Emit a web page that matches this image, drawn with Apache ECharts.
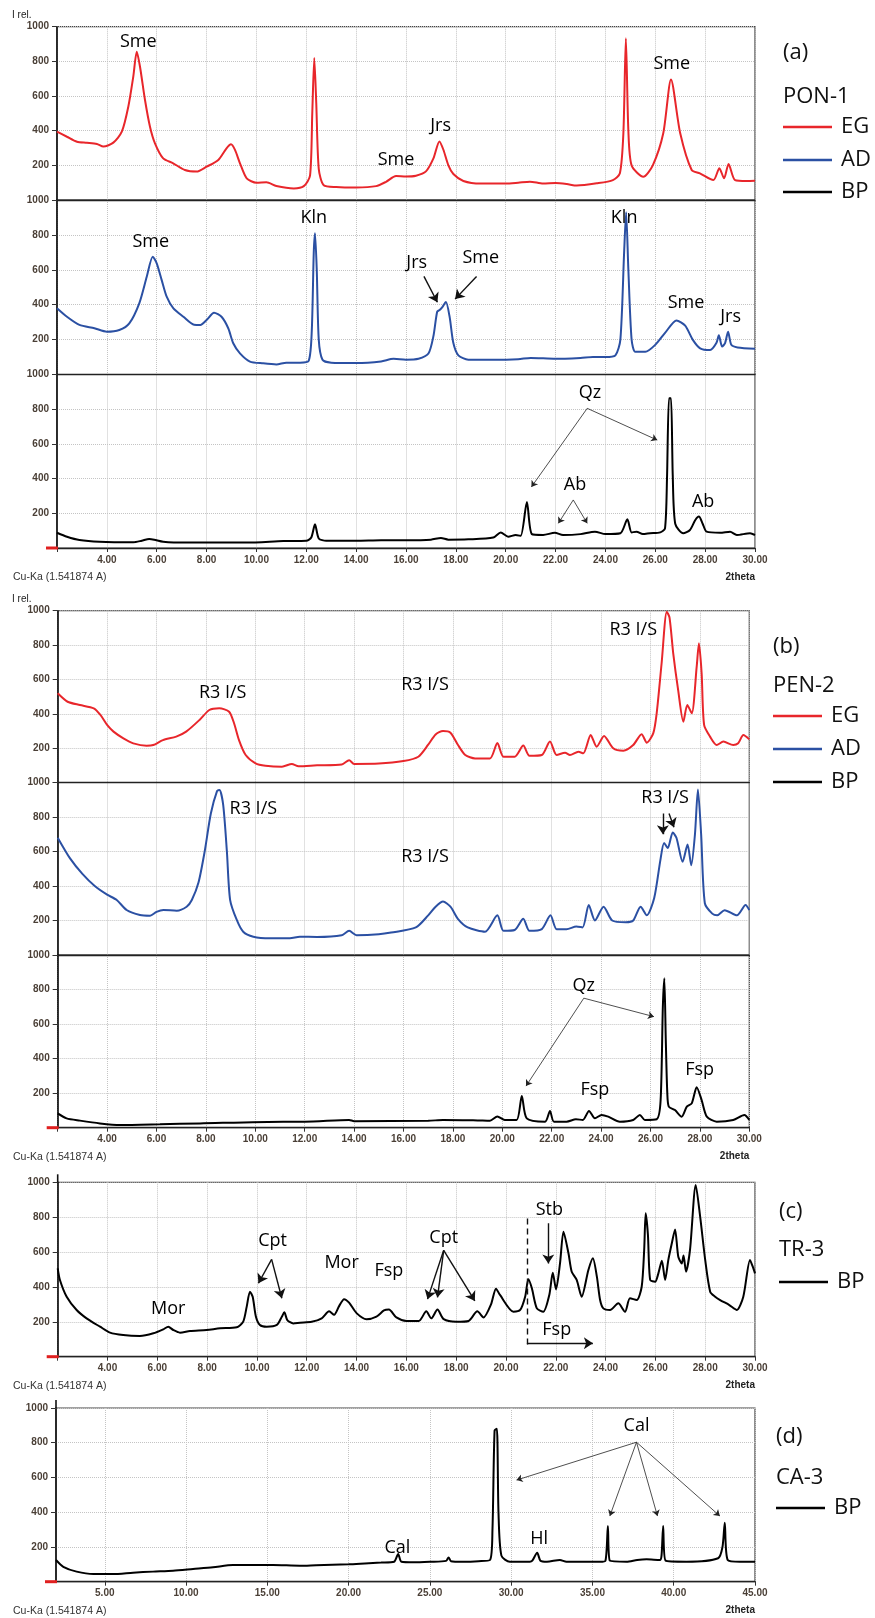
<!DOCTYPE html>
<html>
<head>
<meta charset="UTF-8">
<title>XRD patterns</title>
<style>
  html, body { margin: 0; padding: 0; background: #fff; }
  #main { width: 875px; height: 1618px; }
</style>
</head>
<body>
<div id="main"></div>
<script src="https://cdn.jsdelivr.net/npm/echarts@6/dist/echarts.min.js"></script>
<script>
// ---- data: [2theta, I rel.] ----
var ponEG = [[2,395],[2.4,365],[2.8,336],[3.2,330],[3.6,323],[3.86,308],[4.26,331],[4.6,394],[4.86,538],[5.06,712],[5.2,856],[5.33,769],[5.53,577],[5.73,423],[5.93,327],[6.26,240],[6.66,212],[7.13,173],[7.6,164],[8.0,192],[8.47,231],[8.8,298],[8.98,321],[9.14,289],[9.34,212],[9.61,125],[10.0,100],[10.4,102],[10.8,81],[11.5,67],[11.9,80],[12.15,140],[12.24,500],[12.32,820],[12.4,560],[12.5,180],[12.7,85],[13.2,75],[14,72],[14.8,80],[15.2,105],[15.6,138],[16.0,135],[16.4,140],[16.8,165],[17.1,240],[17.34,338],[17.5,290],[17.7,200],[17.9,150],[18.3,110],[19,95],[20,95],[20.5,100],[20.97,106],[21.5,95],[22,98],[22.45,92],[22.85,83],[23.65,96],[24.3,115],[24.58,154],[24.72,385],[24.82,933],[24.92,400],[25.05,200],[25.52,134],[25.9,200],[26.32,385],[26.63,696],[27.0,385],[27.46,173],[27.79,154],[28.33,115],[28.57,183],[28.76,125],[28.94,208],[29.2,115],[29.67,110],[30,111]];
var ponAD = [[2,380],[2.4,331],[2.9,284],[3.5,265],[4.0,245],[4.5,255],[4.9,293],[5.3,408],[5.6,560],[5.84,675],[6.0,637],[6.2,541],[6.4,446],[6.67,379],[7.07,331],[7.5,285],[7.75,284],[8.0,312],[8.3,354],[8.6,331],[8.87,265],[9.07,179],[9.34,121],[9.74,74],[10.27,64],[10.8,58],[11.2,68],[11.75,68],[12.1,80],[12.22,250],[12.3,700],[12.35,810],[12.42,600],[12.5,200],[12.65,85],[13,68],[14,66],[15,75],[15.5,90],[16,85],[16.5,90],[16.9,120],[17.1,220],[17.25,360],[17.35,370],[17.45,385],[17.6,415],[17.75,330],[17.9,180],[18.1,110],[18.5,85],[19.5,85],[20.5,88],[21,95],[22,90],[23,95],[23.5,100],[24,100],[24.4,110],[24.6,200],[24.75,700],[24.83,930],[24.92,600],[25.05,200],[25.2,130],[25.6,130],[26,170],[26.4,240],[26.85,310],[27.2,280],[27.5,200],[27.8,150],[28.2,140],[28.45,180],[28.55,225],[28.68,160],[28.8,180],[28.92,245],[29.05,170],[29.3,155],[30,148]];
var ponBP = [[2,88],[2.4,65],[2.9,46],[3.7,36],[5.06,33],[5.4,42],[5.7,52],[5.9,48],[6.26,36],[7.2,31],[9.6,31],[11.08,40],[12,42],[12.2,60],[12.35,137],[12.5,55],[12.8,42],[14,42],[15,45],[16,45],[17,48],[17.4,58],[17.7,48],[18.5,50],[19.5,60],[19.8,90],[20.1,65],[20.4,75],[20.6,70],[20.85,265],[21.05,80],[21.5,75],[21.97,88],[22.3,75],[23,80],[23.58,94],[24,80],[24.6,85],[24.88,165],[25.05,90],[25.25,94],[25.5,80],[25.79,85],[26.2,90],[26.39,113],[26.47,400],[26.55,863],[26.63,863],[26.7,420],[26.8,140],[27.12,85],[27.39,104],[27.6,160],[27.75,181],[27.9,140],[28.06,94],[28.6,88],[29.0,94],[29.27,75],[29.8,85],[30,75]];

var penEG = [[2,519],[2.4,470],[2.9,451],[3.46,432],[3.73,393],[4.0,335],[4.26,296],[4.66,257],[5.06,228],[5.6,214],[5.87,218],[6.26,247],[6.8,267],[7.2,296],[7.74,364],[8.14,422],[8.54,432],[8.94,412],[9.14,345],[9.34,247],[9.61,160],[10.01,112],[10.41,98],[11.08,92],[11.48,108],[11.75,95],[12.5,100],[13.5,105],[13.8,130],[14.0,108],[15,110],[16,125],[16.6,150],[17.0,220],[17.3,280],[17.6,300],[17.9,290],[18.2,220],[18.5,160],[18.9,140],[19.5,140],[19.8,230],[20.05,150],[20.5,150],[20.85,215],[21.1,155],[21.6,160],[21.93,238],[22.2,160],[22.54,173],[22.74,160],[23.08,179],[23.28,170],[23.58,276],[23.82,208],[24.12,271],[24.49,199],[24.9,185],[25.3,218],[25.64,281],[25.85,232],[26.11,286],[26.25,403],[26.45,694],[26.66,994],[26.77,960],[26.92,752],[27.12,538],[27.33,354],[27.49,451],[27.67,403],[27.87,674],[27.96,810],[28.07,636],[28.17,335],[28.41,267],[28.68,218],[28.95,238],[29.35,218],[29.55,228],[29.76,276],[30,251]];
var penAD = [[2,680],[2.5,560],[3.0,470],[3.5,400],[4.0,350],[4.39,319],[4.79,261],[5.33,232],[5.74,228],[6.0,250],[6.28,261],[6.82,257],[7.22,280],[7.43,319],[7.7,420],[7.95,600],[8.2,820],[8.45,950],[8.55,957],[8.7,870],[8.85,600],[8.98,320],[9.25,203],[9.51,135],[9.92,106],[10.6,97],[11.4,97],[11.8,106],[12.5,105],[13.5,115],[13.8,140],[14.1,115],[15,120],[15.5,130],[16.5,160],[17.0,230],[17.3,280],[17.6,310],[17.9,280],[18.2,210],[18.6,160],[19.3,135],[19.8,230],[20.05,140],[20.5,145],[20.85,210],[21.1,140],[21.6,150],[21.95,230],[22.2,150],[22.6,150],[23.0,165],[23.25,160],[23.5,290],[23.75,200],[24.1,280],[24.45,200],[25.0,190],[25.3,200],[25.6,280],[25.85,230],[26.15,330],[26.4,550],[26.55,650],[26.7,620],[26.9,710],[27.05,680],[27.3,540],[27.5,640],[27.65,520],[27.8,700],[27.92,960],[28.05,700],[28.2,300],[28.5,240],[28.7,230],[29.0,260],[29.5,230],[29.85,290],[30,260]];
var penBP = [[2,83],[2.36,54],[2.9,41],[3.71,25],[4.52,16],[6.14,20],[7.76,25],[11.13,35],[12,35],[13.8,45],[14,38],[17,40],[17.6,45],[19,42],[19.5,40],[19.8,65],[20.1,45],[20.58,45],[20.79,184],[20.99,54],[21.73,35],[21.93,97],[22.09,35],[22.6,35],[22.98,49],[23.26,45],[23.51,97],[23.75,54],[24.02,74],[24.29,64],[24.76,35],[25.3,45],[25.57,74],[25.77,45],[26.25,49],[26.41,160],[26.5,700],[26.56,865],[26.62,500],[26.68,200],[26.74,122],[26.99,102],[27.26,64],[27.47,122],[27.67,141],[27.87,234],[28.07,160],[28.28,64],[28.68,35],[29.35,45],[29.8,74],[30,45]];

var trBP = [[2,507],[2.09,440],[2.36,344],[2.76,268],[3.16,220],[3.7,172],[4.1,138],[4.63,124],[5.3,119],[5.84,134],[6.24,157],[6.44,172],[6.64,153],[6.91,138],[7.31,147],[7.98,153],[8.52,163],[9.19,169],[9.45,201],[9.59,287],[9.72,373],[9.83,344],[9.96,229],[10.12,182],[10.39,172],[10.8,182],[11.0,229],[11.1,255],[11.22,210],[11.46,191],[11.73,195],[12.2,200],[12.6,220],[12.9,260],[13.1,240],[13.3,290],[13.5,330],[13.7,310],[14.0,250],[14.4,215],[14.8,230],[15.1,265],[15.3,270],[15.6,225],[16.0,205],[16.5,205],[16.8,260],[17.0,220],[17.25,270],[17.5,215],[18.0,200],[18.5,205],[18.85,260],[19.1,225],[19.4,300],[19.6,390],[19.76,354],[20.3,258],[20.57,268],[20.77,344],[20.9,444],[21.04,392],[21.24,277],[21.5,258],[21.74,354],[21.88,482],[22.01,386],[22.17,535],[22.31,717],[22.51,593],[22.64,487],[22.84,440],[23.04,344],[23.31,497],[23.49,564],[23.65,459],[23.78,325],[23.91,277],[24.18,268],[24.51,306],[24.78,258],[24.98,335],[25.25,325],[25.45,401],[25.55,612],[25.61,822],[25.7,700],[25.79,440],[25.99,430],[26.12,478],[26.26,550],[26.39,440],[26.52,555],[26.66,650],[26.79,730],[26.92,573],[27.06,535],[27.13,580],[27.23,487],[27.39,612],[27.62,985],[27.8,800],[28.0,555],[28.2,373],[28.4,344],[28.6,325],[28.97,296],[29.27,268],[29.53,344],[29.8,555],[29.91,516],[30,478]];

var caBP = [[2,125],[2.45,86],[3.27,58],[4.3,44],[5.5,44],[6.74,52],[7.97,58],[9.2,63],[10.43,73],[11.66,83],[12.89,96],[14.12,96],[15.35,96],[17,92],[18,95],[20,100],[21,105],[22,110],[22.8,115],[23.05,160],[23.25,115],[24,112],[25,115],[26,120],[26.15,140],[26.3,118],[27,115],[28,118],[28.7,125],[28.85,300],[28.98,870],[29.12,880],[29.22,400],[29.4,150],[29.92,115],[31.15,115],[31.3,121],[31.6,167],[31.8,121],[32.2,115],[33,125],[33.4,115],[35.46,115],[35.8,121],[35.95,321],[36.07,121],[37.1,115],[37.75,125],[38.33,129],[39.15,125],[39.25,150],[39.35,321],[39.5,121],[40.79,115],[42.73,135],[43.0,200],[43.14,340],[43.32,125],[44.07,115],[45,115]];

// curves: [grid, data, colour]
var curves = [
  [0, ponEG, '#e8262b'], [1, ponAD, '#2b50a3'], [2, ponBP, '#000000'],
  [3, penEG, '#e8262b'], [4, penAD, '#2b50a3'], [5, penBP, '#000000'],
  [6, trBP, '#000000'], [7, caBP, '#000000']
];

// phase labels: [grid, 2theta, I, text]
var labels = [
  [0, 5.26, 913, 'Sme'], [0, 15.6, 231, 'Sme'], [0, 17.39, 428, 'Jrs'], [0, 26.66, 785, 'Sme'],
  [1, 5.76, 761, 'Sme'], [1, 12.3, 899, 'Kln'], [1, 16.43, 638, 'Jrs'], [1, 19.0, 668, 'Sme'],
  [1, 24.75, 899, 'Kln'], [1, 27.23, 408, 'Sme'], [1, 29.02, 331, 'Jrs'],
  [2, 23.38, 892, 'Qz'], [2, 22.78, 363, 'Ab'], [2, 27.92, 267, 'Ab'],
  [3, 8.68, 519, 'R3 I/S'], [3, 16.87, 570, 'R3 I/S'], [3, 25.3, 888, 'R3 I/S'],
  [4, 9.92, 845, 'R3 I/S'], [4, 16.87, 566, 'R3 I/S'], [4, 26.59, 908, 'R3 I/S'],
  [5, 23.3, 820, 'Qz'], [5, 23.75, 218, 'Fsp'], [5, 27.99, 334, 'Fsp'],
  [6, 6.44, 272, 'Mor'], [6, 10.63, 663, 'Cpt'], [6, 13.4, 540, 'Mor'], [6, 15.3, 490, 'Fsp'],
  [6, 17.5, 680, 'Cpt'], [6, 21.74, 841, 'Stb'], [6, 22.04, 153, 'Fsp'],
  [7, 23.0, 195, 'Cal'], [7, 31.72, 244, 'Hl'], [7, 37.71, 896, 'Cal']
];

// thin arrows: [grid, x1, y1, x2, y2]
var thinArrows = [
  [2, 23.27, 805, 21.03, 352], [2, 23.27, 805, 26.08, 622],
  [2, 22.71, 277, 22.11, 142], [2, 22.71, 277, 23.27, 142],
  [5, 23.3, 750, 20.96, 241], [5, 23.3, 750, 26.14, 643],
  [7, 37.71, 803, 30.33, 585], [7, 37.71, 803, 36.07, 378],
  [7, 37.71, 803, 39.0, 378], [7, 37.71, 803, 42.84, 378]
];
// bold arrows
var boldArrows = [
  [1, 16.72, 562, 17.26, 414], [1, 18.83, 562, 17.97, 432],
  [4, 26.5, 820, 26.5, 700], [4, 26.75, 820, 26.95, 740],
  [6, 10.59, 558, 10.06, 421], [6, 10.59, 558, 11.0, 335],
  [6, 17.5, 610, 16.85, 330], [6, 17.5, 610, 17.25, 340], [6, 17.5, 610, 18.75, 320],
  [6, 21.7, 765, 21.7, 535], [6, 20.84, 77, 23.49, 77]
];
var dashed = [[6, 20.84, 793, 20.84, 48]];

// ---- layout: [left, top, right, bottom] in px ----
var boxes = [
  [57, 26.7, 755, 200], [57, 200, 755, 374.5], [57, 374.5, 755, 548],
  [57.7, 610.7, 749.3, 782.5], [57.7, 782.5, 749.3, 955], [57.7, 955, 749.3, 1127.7],
  [57.7, 1182.3, 755, 1356.7],
  [56, 1408, 755, 1581.7]
];
var bottomOf = { 2: true, 5: true, 6: true, 7: true };
var gridLine = { type: 'dotted', color: '#c4c4c4', width: 1 };
var tickFont = { color: '#4a3f36', fontSize: 10, fontWeight: 'bold', fontFamily: 'Liberation Sans, Arial, sans-serif' };
var labelFont = 'Open Sans, Noto Sans, sans-serif';

var grids = [], xAxes = [], yAxes = [], series = [];
boxes.forEach(function (b, i) {
  grids.push({ left: b[0], top: b[1], width: b[2] - b[0], height: b[3] - b[1],
    show: true, borderColor: '#444', borderWidth: 1.2, containLabel: false });
  var isBottom = !!bottomOf[i];
  var xa = {
    gridIndex: i, type: 'value', min: 2, max: 30, interval: 2,
    axisLine: { show: true, onZero: false, lineStyle: { color: '#222', width: 1.4 } },
    axisTick: { show: isBottom, length: 4, lineStyle: { color: '#333' } },
    axisLabel: Object.assign({ show: isBottom, margin: 7,
      formatter: function (v) { return v === 2 ? '' : v.toFixed(2); } }, tickFont),
    splitLine: { show: true, lineStyle: gridLine }
  };
  if (i === 7) {
    xa.max = 45;
    delete xa.interval;
    var cv = [5, 10, 15, 20, 25, 30, 35, 40, 45];
    xa.axisTick.customValues = cv;
    xa.axisLabel.customValues = cv;
  }
  xAxes.push(xa);
  yAxes.push({
    gridIndex: i, type: 'value', min: 0, max: 1000, interval: 200,
    axisLine: { show: true, onZero: false, lineStyle: { color: '#111', width: 1.6 } },
    axisTick: { show: true, length: 5, lineStyle: { color: '#333' } },
    axisLabel: Object.assign({ margin: 8,
      formatter: function (v) { return v === 0 ? '' : String(v); } }, tickFont),
    splitLine: { show: true, lineStyle: gridLine }
  });
});

curves.forEach(function (c) {
  series.push({ type: 'line', xAxisIndex: c[0], yAxisIndex: c[0], data: c[1],
    showSymbol: false, symbol: 'none', animation: false, z: 3, smooth: 0.25,
    lineStyle: { color: c[2], width: 2 } });
});

function arrowSeries(list, g, extra) {
  var d = list.filter(function (a) { return a[0] === g; })
    .map(function (a) { return { coords: [[a[1], a[2]], [a[3], a[4]]] }; });
  if (!d.length) return;
  series.push(Object.assign({ type: 'lines', coordinateSystem: 'cartesian2d',
    xAxisIndex: g, yAxisIndex: g, data: d, animation: false, silent: true, z: 5 }, extra));
}
for (var g = 0; g < boxes.length; g++) {
  arrowSeries(thinArrows, g, { symbol: ['none', 'arrow'], symbolSize: [0, 6],
    lineStyle: { color: '#222', width: 0.8, opacity: 1 } });
  arrowSeries(boldArrows, g, { symbol: ['none', 'arrow'], symbolSize: [0, 9],
    lineStyle: { color: '#111', width: 1.4, opacity: 1 } });
  arrowSeries(dashed, g, { symbol: 'none',
    lineStyle: { color: '#111', width: 1.4, type: [6, 4], opacity: 1 } });
}

// ---- legend blocks and axis captions ----
var legends = [
  { x: 783, tag: '(a)', tagY: 53, name: 'PON-1', nameY: 97, items: [['EG', '#e8262b', 127], ['AD', '#2b50a3', 160], ['BP', '#000', 192]] },
  { x: 773, tag: '(b)', tagY: 647, name: 'PEN-2', nameY: 686, items: [['EG', '#e8262b', 716], ['AD', '#2b50a3', 749], ['BP', '#000', 782]] },
  { x: 779, tag: '(c)', tagY: 1212, name: 'TR-3', nameY: 1250, items: [['BP', '#000', 1282]] },
  { x: 776, tag: '(d)', tagY: 1437, name: 'CA-3', nameY: 1478, items: [['BP', '#000', 1508]] }
];
var graphics = [];
function txt(x, y, s, size, opts) {
  var st = Object.assign({ text: s, x: x, y: y, fill: '#111', fontSize: size,
    fontFamily: labelFont, verticalAlign: 'middle', textAlign: 'left' }, opts || {});
  graphics.push({ type: 'text', silent: true, z: 20, style: st });
}
legends.forEach(function (L) {
  txt(L.x, L.tagY, L.tag, 22);
  txt(L.x, L.nameY, L.name, 22);
  L.items.forEach(function (it) {
    graphics.push({ type: 'line', silent: true,
      shape: { x1: L.x, y1: it[2], x2: L.x + 49, y2: it[2] },
      style: { stroke: it[1], lineWidth: 2.5 } });
    txt(L.x + 58, it[2], it[0], 22);
  });
});
var capFont = 'Liberation Sans, Arial, sans-serif';
[[0, 2], [3, 5], [6, 6], [7, 7]].forEach(function (p) {
  var top = boxes[p[0]], bot = boxes[p[1]];
  if (p[0] === 0 || p[0] === 3) txt(12, top[1] - 11, 'I rel.', 10, { fontFamily: capFont, fill: '#222' });
  txt(13, bot[3] + 29, 'Cu-Ka (1.541874 A)', 10.5, { fontFamily: capFont, fill: '#333' });
  txt(bot[2], bot[3] + 29, '2theta', 10, { fontFamily: capFont, fill: '#222', fontWeight: 'bold', textAlign: 'right' });
  graphics.push({ type: 'line', silent: true, z: 10,
    shape: { x1: bot[0] - 11, y1: bot[3], x2: bot[0] + 1, y2: bot[3] },
    style: { stroke: '#e02020', lineWidth: 3 } });
  if (p[0] >= 6) graphics.push({ type: 'line', silent: true, z: 10,
    shape: { x1: top[0], y1: top[1] - 8, x2: top[0], y2: top[1] },
    style: { stroke: '#111', lineWidth: 1.6 } });
});

var myChart = echarts.init(document.getElementById('main'), null, { renderer: 'canvas' });
var option = {
  backgroundColor: '#fff',
  animation: false,
  grid: grids,
  xAxis: xAxes,
  yAxis: yAxes,
  series: series
};
myChart.setOption(option);

// phase labels placed through each grid's own scales
labels.forEach(function (l) {
  var pt = myChart.convertToPixel({ xAxisIndex: l[0], yAxisIndex: l[0] }, [l[1], l[2]]);
  txt(pt[0], pt[1], l[3], 18, { fill: '#000', textAlign: 'center' });
});
myChart.setOption({ graphic: graphics });
</script>
</body>
</html>
